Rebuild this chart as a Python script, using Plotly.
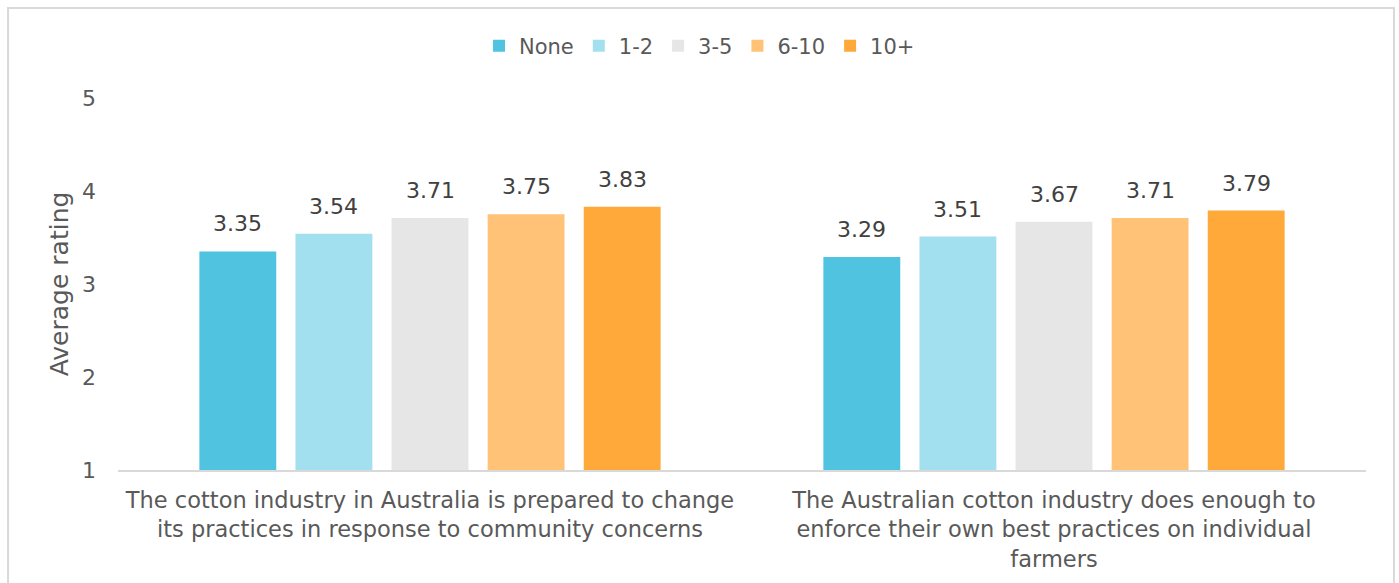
import plotly.graph_objects as go

categories = [
    "The cotton industry in Australia is prepared to change<br>its practices in response to community concerns",
    "The Australian cotton industry does enough to<br>enforce their own best practices on individual<br>farmers",
]
series_names = ["None", "1-2", "3-5", "6-10", "10+"]
values = {
    "None": [3.35, 3.29],
    "1-2": [3.54, 3.51],
    "3-5": [3.71, 3.67],
    "6-10": [3.75, 3.71],
    "10+": [3.83, 3.79],
}
colors = ["#4FC3E0", "#A2DFEF", "#E6E6E6", "#FFC277", "#FFA93A"]

FONT = "DejaVu Sans"
TXT = "#595959"
BARGAP = 0.23
BARGROUPGAP = 0.2

fig = go.Figure()
annotations = []
n = len(series_names)
slot = (1 - BARGAP) / n
for i, (name, col) in enumerate(zip(series_names, colors)):
    v = values[name]
    fig.add_trace(go.Bar(
        x=categories, y=[val - 1 for val in v], base=1, name=name,
        marker=dict(color=col, line=dict(width=0)),
        hoverinfo="name+y",
    ))
    for j, val in enumerate(v):
        annotations.append(dict(
            x=j - (1 - BARGAP) / 2 + slot * (i + 0.5), y=val, xref="x", yref="y",
            text=f"{val:.2f}", showarrow=False, yanchor="bottom", yshift=13,
            font=dict(size=22, color="#404040", family=FONT),
        ))

fig.update_layout(
    width=1399, height=583,
    margin=dict(l=118, r=33, t=98, b=113),
    paper_bgcolor="white", plot_bgcolor="white",
    barmode="group", bargap=BARGAP, bargroupgap=BARGROUPGAP,
    font=dict(family=FONT, color=TXT, size=19),
    legend=dict(orientation="h", xref="container", yref="container",
                x=0.5, xanchor="center", y=0.921, yanchor="middle",
                font=dict(size=21, color=TXT), itemwidth=30,
                traceorder="normal"),
    xaxis=dict(showline=True, linecolor="#D9D9D9", linewidth=2,
               ticks="", tickfont=dict(size=22.5, color=TXT), showgrid=False,
               ticklabelstandoff=9),
    yaxis=dict(range=[1, 5], tickvals=[1, 2, 3, 4, 5], showgrid=False,
               zeroline=False, showline=False, ticks="",
               tickfont=dict(size=22, color=TXT), ticklabelstandoff=21,
               title=dict(text="Average rating", font=dict(size=25, color=TXT), standoff=6)),
    annotations=annotations,
    shapes=[dict(type="rect", xref="paper", yref="paper",
                 x0=-0.0881, x1=1.0224, y0=-0.33, y1=1.2419,
                 line=dict(color="#D9D9D9", width=2), layer="below")],
)

fig.write_html("out.html")
